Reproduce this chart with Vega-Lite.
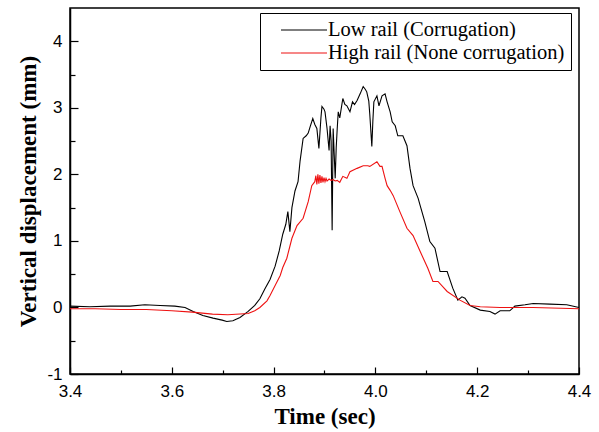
{
  "$schema": "https://vega.github.io/schema/vega-lite/v6.json",
  "width": 509,
  "height": 366,
  "autosize": {"type": "none"},
  "padding": {"left": 70, "top": 8, "right": 20, "bottom": 58},
  "background": "white",
  "config": {
    "view": {"stroke": "black", "strokeWidth": 1.5},
    "axis": {
      "grid": false,
      "domainColor": "black",
      "domainWidth": 1.5,
      "tickColor": "black",
      "tickWidth": 1.2,
      "labelColor": "black",
      "labelFont": "Liberation Sans",
      "labelFontSize": 17,
      "titleFont": "Liberation Serif",
      "titleFontWeight": "bold",
      "titleFontSize": 23,
      "titleColor": "black"
    }
  },
  "data": {
    "values": [
      {"t": 3.400, "v": 0.02, "series": "Low rail (Corrugation)"},
      {"t": 3.439, "v": 0.01, "series": "Low rail (Corrugation)"},
      {"t": 3.479, "v": 0.02, "series": "Low rail (Corrugation)"},
      {"t": 3.518, "v": 0.02, "series": "Low rail (Corrugation)"},
      {"t": 3.547, "v": 0.04, "series": "Low rail (Corrugation)"},
      {"t": 3.577, "v": 0.03, "series": "Low rail (Corrugation)"},
      {"t": 3.606, "v": 0.02, "series": "Low rail (Corrugation)"},
      {"t": 3.626, "v": 0.00, "series": "Low rail (Corrugation)"},
      {"t": 3.642, "v": -0.06, "series": "Low rail (Corrugation)"},
      {"t": 3.661, "v": -0.12, "series": "Low rail (Corrugation)"},
      {"t": 3.681, "v": -0.16, "series": "Low rail (Corrugation)"},
      {"t": 3.699, "v": -0.19, "series": "Low rail (Corrugation)"},
      {"t": 3.708, "v": -0.21, "series": "Low rail (Corrugation)"},
      {"t": 3.720, "v": -0.20, "series": "Low rail (Corrugation)"},
      {"t": 3.734, "v": -0.15, "series": "Low rail (Corrugation)"},
      {"t": 3.750, "v": -0.06, "series": "Low rail (Corrugation)"},
      {"t": 3.763, "v": 0.03, "series": "Low rail (Corrugation)"},
      {"t": 3.773, "v": 0.13, "series": "Low rail (Corrugation)"},
      {"t": 3.783, "v": 0.28, "series": "Low rail (Corrugation)"},
      {"t": 3.793, "v": 0.42, "series": "Low rail (Corrugation)"},
      {"t": 3.803, "v": 0.62, "series": "Low rail (Corrugation)"},
      {"t": 3.811, "v": 0.85, "series": "Low rail (Corrugation)"},
      {"t": 3.818, "v": 1.10, "series": "Low rail (Corrugation)"},
      {"t": 3.824, "v": 1.25, "series": "Low rail (Corrugation)"},
      {"t": 3.828, "v": 1.44, "series": "Low rail (Corrugation)"},
      {"t": 3.832, "v": 1.14, "series": "Low rail (Corrugation)"},
      {"t": 3.836, "v": 1.50, "series": "Low rail (Corrugation)"},
      {"t": 3.842, "v": 1.75, "series": "Low rail (Corrugation)"},
      {"t": 3.848, "v": 1.89, "series": "Low rail (Corrugation)"},
      {"t": 3.852, "v": 2.20, "series": "Low rail (Corrugation)"},
      {"t": 3.858, "v": 2.54, "series": "Low rail (Corrugation)"},
      {"t": 3.864, "v": 2.58, "series": "Low rail (Corrugation)"},
      {"t": 3.868, "v": 2.62, "series": "Low rail (Corrugation)"},
      {"t": 3.872, "v": 2.72, "series": "Low rail (Corrugation)"},
      {"t": 3.877, "v": 2.84, "series": "Low rail (Corrugation)"},
      {"t": 3.881, "v": 2.75, "series": "Low rail (Corrugation)"},
      {"t": 3.885, "v": 2.69, "series": "Low rail (Corrugation)"},
      {"t": 3.889, "v": 2.39, "series": "Low rail (Corrugation)"},
      {"t": 3.893, "v": 2.85, "series": "Low rail (Corrugation)"},
      {"t": 3.895, "v": 3.02, "series": "Low rail (Corrugation)"},
      {"t": 3.899, "v": 2.98, "series": "Low rail (Corrugation)"},
      {"t": 3.901, "v": 2.94, "series": "Low rail (Corrugation)"},
      {"t": 3.905, "v": 2.69, "series": "Low rail (Corrugation)"},
      {"t": 3.909, "v": 2.36, "series": "Low rail (Corrugation)"},
      {"t": 3.911, "v": 2.73, "series": "Low rail (Corrugation)"},
      {"t": 3.913, "v": 2.50, "series": "Low rail (Corrugation)"},
      {"t": 3.915, "v": 1.16, "series": "Low rail (Corrugation)"},
      {"t": 3.917, "v": 2.69, "series": "Low rail (Corrugation)"},
      {"t": 3.921, "v": 1.94, "series": "Low rail (Corrugation)"},
      {"t": 3.923, "v": 2.40, "series": "Low rail (Corrugation)"},
      {"t": 3.925, "v": 2.69, "series": "Low rail (Corrugation)"},
      {"t": 3.927, "v": 2.94, "series": "Low rail (Corrugation)"},
      {"t": 3.930, "v": 2.85, "series": "Low rail (Corrugation)"},
      {"t": 3.936, "v": 3.14, "series": "Low rail (Corrugation)"},
      {"t": 3.940, "v": 3.05, "series": "Low rail (Corrugation)"},
      {"t": 3.944, "v": 3.03, "series": "Low rail (Corrugation)"},
      {"t": 3.950, "v": 2.94, "series": "Low rail (Corrugation)"},
      {"t": 3.955, "v": 3.09, "series": "Low rail (Corrugation)"},
      {"t": 3.959, "v": 3.05, "series": "Low rail (Corrugation)"},
      {"t": 3.964, "v": 3.11, "series": "Low rail (Corrugation)"},
      {"t": 3.970, "v": 3.21, "series": "Low rail (Corrugation)"},
      {"t": 3.976, "v": 3.32, "series": "Low rail (Corrugation)"},
      {"t": 3.980, "v": 3.28, "series": "Low rail (Corrugation)"},
      {"t": 3.983, "v": 3.24, "series": "Low rail (Corrugation)"},
      {"t": 3.987, "v": 3.10, "series": "Low rail (Corrugation)"},
      {"t": 3.989, "v": 2.90, "series": "Low rail (Corrugation)"},
      {"t": 3.993, "v": 2.42, "series": "Low rail (Corrugation)"},
      {"t": 3.995, "v": 2.80, "series": "Low rail (Corrugation)"},
      {"t": 3.997, "v": 3.09, "series": "Low rail (Corrugation)"},
      {"t": 4.003, "v": 3.18, "series": "Low rail (Corrugation)"},
      {"t": 4.007, "v": 3.03, "series": "Low rail (Corrugation)"},
      {"t": 4.013, "v": 3.18, "series": "Low rail (Corrugation)"},
      {"t": 4.019, "v": 3.21, "series": "Low rail (Corrugation)"},
      {"t": 4.023, "v": 3.09, "series": "Low rail (Corrugation)"},
      {"t": 4.029, "v": 2.94, "series": "Low rail (Corrugation)"},
      {"t": 4.033, "v": 2.79, "series": "Low rail (Corrugation)"},
      {"t": 4.039, "v": 2.73, "series": "Low rail (Corrugation)"},
      {"t": 4.044, "v": 2.58, "series": "Low rail (Corrugation)"},
      {"t": 4.054, "v": 2.58, "series": "Low rail (Corrugation)"},
      {"t": 4.062, "v": 2.43, "series": "Low rail (Corrugation)"},
      {"t": 4.068, "v": 2.09, "series": "Low rail (Corrugation)"},
      {"t": 4.074, "v": 1.83, "series": "Low rail (Corrugation)"},
      {"t": 4.084, "v": 1.64, "series": "Low rail (Corrugation)"},
      {"t": 4.088, "v": 1.53, "series": "Low rail (Corrugation)"},
      {"t": 4.097, "v": 1.29, "series": "Low rail (Corrugation)"},
      {"t": 4.107, "v": 0.99, "series": "Low rail (Corrugation)"},
      {"t": 4.117, "v": 0.89, "series": "Low rail (Corrugation)"},
      {"t": 4.127, "v": 0.54, "series": "Low rail (Corrugation)"},
      {"t": 4.141, "v": 0.54, "series": "Low rail (Corrugation)"},
      {"t": 4.152, "v": 0.29, "series": "Low rail (Corrugation)"},
      {"t": 4.162, "v": 0.11, "series": "Low rail (Corrugation)"},
      {"t": 4.170, "v": 0.16, "series": "Low rail (Corrugation)"},
      {"t": 4.176, "v": 0.14, "series": "Low rail (Corrugation)"},
      {"t": 4.186, "v": 0.03, "series": "Low rail (Corrugation)"},
      {"t": 4.206, "v": -0.04, "series": "Low rail (Corrugation)"},
      {"t": 4.225, "v": -0.06, "series": "Low rail (Corrugation)"},
      {"t": 4.235, "v": -0.10, "series": "Low rail (Corrugation)"},
      {"t": 4.245, "v": -0.05, "series": "Low rail (Corrugation)"},
      {"t": 4.264, "v": -0.05, "series": "Low rail (Corrugation)"},
      {"t": 4.274, "v": 0.02, "series": "Low rail (Corrugation)"},
      {"t": 4.294, "v": 0.04, "series": "Low rail (Corrugation)"},
      {"t": 4.310, "v": 0.06, "series": "Low rail (Corrugation)"},
      {"t": 4.343, "v": 0.05, "series": "Low rail (Corrugation)"},
      {"t": 4.376, "v": 0.04, "series": "Low rail (Corrugation)"},
      {"t": 4.400, "v": 0.00, "series": "Low rail (Corrugation)"},
      {"t": 3.400, "v": -0.02, "series": "High rail (None corrugation)"},
      {"t": 3.450, "v": -0.02, "series": "High rail (None corrugation)"},
      {"t": 3.500, "v": -0.03, "series": "High rail (None corrugation)"},
      {"t": 3.550, "v": -0.03, "series": "High rail (None corrugation)"},
      {"t": 3.600, "v": -0.05, "series": "High rail (None corrugation)"},
      {"t": 3.640, "v": -0.07, "series": "High rail (None corrugation)"},
      {"t": 3.680, "v": -0.10, "series": "High rail (None corrugation)"},
      {"t": 3.710, "v": -0.11, "series": "High rail (None corrugation)"},
      {"t": 3.750, "v": -0.09, "series": "High rail (None corrugation)"},
      {"t": 3.763, "v": -0.05, "series": "High rail (None corrugation)"},
      {"t": 3.773, "v": 0.00, "series": "High rail (None corrugation)"},
      {"t": 3.787, "v": 0.10, "series": "High rail (None corrugation)"},
      {"t": 3.793, "v": 0.18, "series": "High rail (None corrugation)"},
      {"t": 3.803, "v": 0.33, "series": "High rail (None corrugation)"},
      {"t": 3.813, "v": 0.48, "series": "High rail (None corrugation)"},
      {"t": 3.818, "v": 0.60, "series": "High rail (None corrugation)"},
      {"t": 3.826, "v": 0.74, "series": "High rail (None corrugation)"},
      {"t": 3.836, "v": 1.04, "series": "High rail (None corrugation)"},
      {"t": 3.846, "v": 1.23, "series": "High rail (None corrugation)"},
      {"t": 3.858, "v": 1.34, "series": "High rail (None corrugation)"},
      {"t": 3.868, "v": 1.59, "series": "High rail (None corrugation)"},
      {"t": 3.875, "v": 1.83, "series": "High rail (None corrugation)"},
      {"t": 3.881, "v": 1.89, "series": "High rail (None corrugation)"},
      {"t": 3.883, "v": 1.98, "series": "High rail (None corrugation)"},
      {"t": 3.885, "v": 1.85, "series": "High rail (None corrugation)"},
      {"t": 3.887, "v": 2.00, "series": "High rail (None corrugation)"},
      {"t": 3.889, "v": 1.86, "series": "High rail (None corrugation)"},
      {"t": 3.891, "v": 1.99, "series": "High rail (None corrugation)"},
      {"t": 3.893, "v": 1.87, "series": "High rail (None corrugation)"},
      {"t": 3.895, "v": 1.97, "series": "High rail (None corrugation)"},
      {"t": 3.897, "v": 1.88, "series": "High rail (None corrugation)"},
      {"t": 3.899, "v": 1.95, "series": "High rail (None corrugation)"},
      {"t": 3.901, "v": 1.89, "series": "High rail (None corrugation)"},
      {"t": 3.903, "v": 1.94, "series": "High rail (None corrugation)"},
      {"t": 3.905, "v": 1.90, "series": "High rail (None corrugation)"},
      {"t": 3.909, "v": 1.93, "series": "High rail (None corrugation)"},
      {"t": 3.913, "v": 1.91, "series": "High rail (None corrugation)"},
      {"t": 3.917, "v": 1.92, "series": "High rail (None corrugation)"},
      {"t": 3.921, "v": 1.90, "series": "High rail (None corrugation)"},
      {"t": 3.925, "v": 1.91, "series": "High rail (None corrugation)"},
      {"t": 3.930, "v": 1.88, "series": "High rail (None corrugation)"},
      {"t": 3.936, "v": 1.97, "series": "High rail (None corrugation)"},
      {"t": 3.944, "v": 1.94, "series": "High rail (None corrugation)"},
      {"t": 3.950, "v": 2.04, "series": "High rail (None corrugation)"},
      {"t": 3.964, "v": 2.09, "series": "High rail (None corrugation)"},
      {"t": 3.976, "v": 2.13, "series": "High rail (None corrugation)"},
      {"t": 3.985, "v": 2.13, "series": "High rail (None corrugation)"},
      {"t": 3.989, "v": 2.12, "series": "High rail (None corrugation)"},
      {"t": 4.003, "v": 2.19, "series": "High rail (None corrugation)"},
      {"t": 4.009, "v": 2.12, "series": "High rail (None corrugation)"},
      {"t": 4.013, "v": 2.12, "series": "High rail (None corrugation)"},
      {"t": 4.019, "v": 1.94, "series": "High rail (None corrugation)"},
      {"t": 4.023, "v": 1.83, "series": "High rail (None corrugation)"},
      {"t": 4.029, "v": 1.76, "series": "High rail (None corrugation)"},
      {"t": 4.035, "v": 1.68, "series": "High rail (None corrugation)"},
      {"t": 4.048, "v": 1.44, "series": "High rail (None corrugation)"},
      {"t": 4.062, "v": 1.19, "series": "High rail (None corrugation)"},
      {"t": 4.074, "v": 1.08, "series": "High rail (None corrugation)"},
      {"t": 4.088, "v": 0.84, "series": "High rail (None corrugation)"},
      {"t": 4.103, "v": 0.59, "series": "High rail (None corrugation)"},
      {"t": 4.113, "v": 0.39, "series": "High rail (None corrugation)"},
      {"t": 4.123, "v": 0.39, "series": "High rail (None corrugation)"},
      {"t": 4.141, "v": 0.24, "series": "High rail (None corrugation)"},
      {"t": 4.166, "v": 0.11, "series": "High rail (None corrugation)"},
      {"t": 4.186, "v": 0.03, "series": "High rail (None corrugation)"},
      {"t": 4.206, "v": 0.01, "series": "High rail (None corrugation)"},
      {"t": 4.245, "v": 0.00, "series": "High rail (None corrugation)"},
      {"t": 4.310, "v": 0.00, "series": "High rail (None corrugation)"},
      {"t": 4.400, "v": -0.02, "series": "High rail (None corrugation)"}
    ]
  },
  "mark": {"type": "line", "strokeWidth": 1.1},
  "encoding": {
    "x": {
      "field": "t",
      "type": "quantitative",
      "scale": {"domain": [3.4, 4.4], "nice": false, "zero": false},
      "axis": {
        "title": "Time (sec)",
        "values": [3.4, 3.5, 3.6, 3.7, 3.8, 3.9, 4.0, 4.1, 4.2, 4.3, 4.4],
        "labelExpr": "round(datum.value * 10) % 2 == 0 ? format(datum.value, '.1f') : ''",
        "tickSize": {"condition": {"test": "round(datum.value * 10) % 2 == 0", "value": -7}, "value": -4},
        "labelPadding": 16,
        "labelFlush": false,
        "labelOverlap": false,
        "titlePadding": 3
      }
    },
    "y": {
      "field": "v",
      "type": "quantitative",
      "scale": {"domain": [-1, 4.5], "nice": false, "zero": false},
      "axis": {
        "title": "Vertical displacement (mm)",
        "values": [-1, -0.5, 0, 0.5, 1, 1.5, 2, 2.5, 3, 3.5, 4],
        "labelExpr": "datum.value % 1 == 0 ? ('' + datum.value) : ''",
        "tickSize": {"condition": {"test": "datum.value % 1 == 0", "value": -8}, "value": -5},
        "labelPadding": 16,
        "labelFlush": false,
        "labelOverlap": false,
        "titlePadding": 6
      }
    },
    "color": {
      "field": "series",
      "type": "nominal",
      "scale": {
        "domain": ["Low rail (Corrugation)", "High rail (None corrugation)"],
        "range": ["black", "#ee1111"]
      },
      "legend": {
        "title": null,
        "orient": "none",
        "legendX": 190,
        "legendY": 5,
        "direction": "vertical",
        "strokeColor": "black",
        "fillColor": "white",
        "padding": 6,
        "symbolType": "M-2.3,0H2.3",
        "symbolSize": 400,
        "symbolStrokeWidth": 1.2,
        "symbolOffset": 27,
        "labelFont": "Liberation Serif",
        "labelFontSize": 20.5,
        "labelColor": "black",
        "labelLimit": 400,
        "labelOffset": 13,
        "rowPadding": 1
      }
    }
  }
}
